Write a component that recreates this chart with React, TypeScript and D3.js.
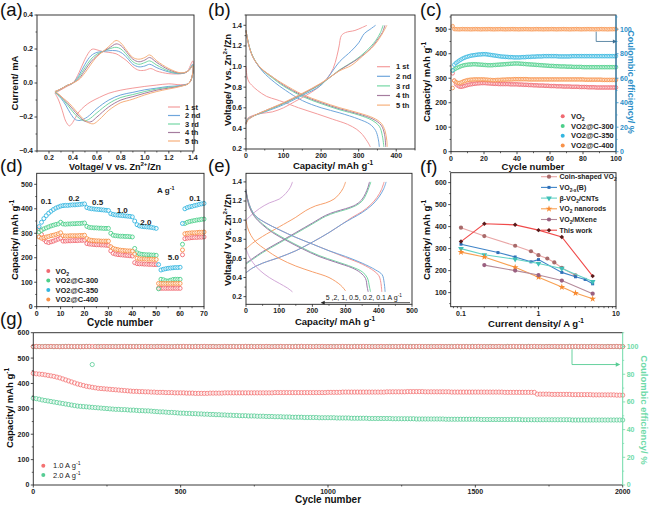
import React from "react";
import * as d3 from "d3";

const F = "'Liberation Sans', Arial, Helvetica, sans-serif";

// ---------------- (a) CV data: [V, I] closed loops ----------------
const cvLabels = ["1 st", "2 nd", "3 rd", "4 th", "5 th"];
const cv1 = [[0.25,-0.06],[0.3,-0.04],[0.35,-0.02],[0.4,0.0],[0.45,0.06],[0.5,0.14],[0.55,0.195],[0.57,0.2],[0.6,0.195],[0.65,0.185],[0.7,0.18],[0.76,0.172],[0.8,0.155],[0.85,0.13],[0.9,0.095],[0.95,0.075],[1.0,0.075],[1.05,0.085],[1.1,0.07],[1.2,0.055],[1.3,0.055],[1.35,0.065],[1.4,0.13],
  [1.4,0.066],[1.37,0.0],[1.3,-0.01],[1.2,-0.005],[1.1,-0.012],[1.0,-0.02],[0.9,-0.03],[0.8,-0.042],[0.7,-0.06],[0.62,-0.085],[0.55,-0.11],[0.5,-0.135],[0.45,-0.17],[0.42,-0.205],[0.39,-0.24],[0.37,-0.252],[0.34,-0.225],[0.31,-0.16],[0.28,-0.1],[0.25,-0.06]];
const cv2 = [[0.25,-0.055],[0.3,-0.035],[0.35,-0.015],[0.4,0.0],[0.45,0.045],[0.5,0.11],[0.55,0.16],[0.6,0.18],[0.65,0.185],[0.7,0.19],[0.76,0.19],[0.8,0.18],[0.85,0.15],[0.9,0.11],[0.95,0.095],[1.0,0.1],[1.04,0.11],[1.1,0.09],[1.2,0.065],[1.3,0.055],[1.36,0.07],[1.4,0.11],
  [1.4,0.055],[1.37,0.0],[1.3,-0.015],[1.2,-0.02],[1.1,-0.03],[1.0,-0.04],[0.9,-0.055],[0.8,-0.07],[0.7,-0.1],[0.6,-0.15],[0.52,-0.2],[0.46,-0.22],[0.42,-0.215],[0.38,-0.18],[0.34,-0.13],[0.3,-0.09],[0.25,-0.055]];
const cv3 = [[0.25,-0.055],[0.3,-0.035],[0.35,-0.015],[0.4,0.0],[0.45,0.035],[0.5,0.09],[0.55,0.14],[0.6,0.17],[0.65,0.185],[0.7,0.2],[0.76,0.21],[0.8,0.2],[0.85,0.165],[0.9,0.125],[0.95,0.11],[1.0,0.12],[1.04,0.13],[1.1,0.105],[1.2,0.07],[1.3,0.057],[1.36,0.07],[1.4,0.105],
  [1.4,0.058],[1.37,0.0],[1.3,-0.017],[1.2,-0.025],[1.1,-0.035],[1.0,-0.05],[0.9,-0.068],[0.8,-0.085],[0.7,-0.12],[0.6,-0.175],[0.53,-0.215],[0.49,-0.222],[0.44,-0.2],[0.4,-0.17],[0.35,-0.125],[0.3,-0.085],[0.25,-0.055]];
const cv4 = [[0.25,-0.05],[0.3,-0.035],[0.35,-0.015],[0.4,0.0],[0.45,0.025],[0.5,0.075],[0.55,0.125],[0.6,0.16],[0.65,0.185],[0.7,0.205],[0.76,0.23],[0.8,0.22],[0.85,0.18],[0.9,0.14],[0.95,0.125],[1.0,0.135],[1.04,0.15],[1.1,0.12],[1.2,0.078],[1.3,0.058],[1.36,0.07],[1.4,0.1],
  [1.4,0.06],[1.37,0.0],[1.3,-0.018],[1.2,-0.03],[1.1,-0.042],[1.0,-0.06],[0.9,-0.08],[0.8,-0.1],[0.7,-0.14],[0.6,-0.2],[0.55,-0.228],[0.5,-0.225],[0.45,-0.195],[0.4,-0.155],[0.35,-0.115],[0.3,-0.08],[0.25,-0.05]];
const cv5 = [[0.25,-0.05],[0.3,-0.035],[0.35,-0.015],[0.4,0.0],[0.45,0.02],[0.5,0.06],[0.55,0.11],[0.6,0.155],[0.65,0.185],[0.7,0.215],[0.76,0.25],[0.8,0.235],[0.85,0.19],[0.9,0.15],[0.95,0.14],[1.0,0.15],[1.04,0.165],[1.1,0.13],[1.2,0.085],[1.3,0.06],[1.36,0.07],[1.4,0.1],
  [1.4,0.06],[1.37,0.0],[1.3,-0.02],[1.2,-0.035],[1.1,-0.05],[1.0,-0.07],[0.9,-0.095],[0.85,-0.105],[0.8,-0.115],[0.7,-0.16],[0.62,-0.215],[0.57,-0.24],[0.52,-0.23],[0.47,-0.2],[0.42,-0.16],[0.37,-0.12],[0.32,-0.09],[0.28,-0.065],[0.25,-0.05]];

// ---------------- (b) GCD data: [capacity, V] ----------------
const gcdDis1 = [[0,1.0],[3,0.9],[8,0.85],[15,0.82],[30,0.77],[55,0.71],[80,0.68],[100,0.655],[140,0.6],[190,0.54],[230,0.49],[270,0.44],[295,0.39],[310,0.34],[320,0.29],[327,0.25],[331,0.22]];
const gcdCh1 = [[0,0.45],[5,0.5],[15,0.52],[40,0.545],[70,0.56],[100,0.6],[130,0.66],[160,0.72],[190,0.79],[215,0.88],[232,0.98],[242,1.1],[248,1.2],[254,1.3],[265,1.33],[290,1.35],[310,1.38],[322,1.4]];
const gcdDis2 = [[0,1.35],[5,1.25],[12,1.15],[25,1.05],[45,0.95],[75,0.85],[105,0.77],[150,0.67],[200,0.6],[250,0.55],[300,0.49],[330,0.44],[345,0.38],[352,0.3],[355,0.22]];
const gcdCh2 = [[0,0.45],[5,0.49],[20,0.52],[50,0.56],[100,0.63],[150,0.72],[200,0.82],[250,1.05],[280,1.15],[300,1.23],[315,1.32],[330,1.36],[345,1.4]];
const gcdDis3 = [[0,1.35],[7,1.22],[18,1.1],[40,0.98],[70,0.89],[100,0.81],[150,0.71],[200,0.64],[250,0.58],[300,0.53],[335,0.48],[355,0.42],[363,0.33],[367,0.22]];
const gcdCh3 = [[0,0.45],[5,0.485],[20,0.52],[50,0.565],[100,0.64],[150,0.73],[200,0.83],[250,0.97],[290,1.06],[320,1.15],[345,1.25],[358,1.33],[365,1.4]];
const gcdDis4 = [[0,1.35],[8,1.2],[20,1.08],[40,0.98],[70,0.9],[100,0.82],[150,0.72],[200,0.65],[250,0.59],[300,0.54],[338,0.49],[360,0.43],[369,0.34],[372,0.22]];
const gcdCh4 = [[0,0.44],[5,0.48],[20,0.52],[50,0.57],[100,0.645],[150,0.735],[200,0.835],[250,0.965],[300,1.08],[330,1.17],[352,1.27],[363,1.33],[370,1.4]];
const gcdDis5 = [[0,1.35],[8,1.2],[20,1.08],[40,0.985],[70,0.9],[100,0.83],[150,0.73],[200,0.66],[250,0.6],[300,0.55],[340,0.5],[360,0.45],[370,0.38],[375,0.28],[376,0.22]];
const gcdCh5 = [[0,0.44],[5,0.48],[20,0.52],[50,0.57],[100,0.65],[150,0.74],[200,0.84],[250,0.96],[280,1.01],[310,1.1],[340,1.2],[360,1.3],[375,1.4]];

// ---------------- (c) cycling at low rate ----------------
const seriesNames = ["VO_{2}", "VO2@C-300", "VO2@C-350", "VO2@C-400"];
const cVO2 = [320,290,276,270,266,265,266,268,270,272,274,275,276,277,278,279,279,280,280,280,280,279,279,278,278,277,277,277,276,276,276,276,276,276,276,275,275,275,275,275,274,274,274,273,273,273,272,272,272,271,271,271,270,270,270,270,269,269,269,268,268,268,268,267,267,267,267,266,266,266,266,266,265,265,265,265,265,264,264,264,264,264,263,263,263,263,263,262,262,262,262,262,262,262,262,262,262,262,262,262];
const cC300 = [332,336,340,343,346,349,351,353,354,355,356,356,357,357,357,356,356,355,355,354,354,353,353,353,353,354,354,355,355,356,356,357,357,358,358,359,359,360,360,360,360,359,359,358,358,357,357,356,356,355,355,354,354,353,353,352,352,351,351,350,350,350,349,349,349,348,348,348,348,347,347,347,347,346,346,346,346,346,346,345,345,345,345,345,345,345,345,345,345,345,345,345,345,345,345,345,345,345,345,345];
const cC350 = [332,355,362,367,372,376,380,383,386,388,390,392,393,394,395,396,397,397,398,398,398,397,396,395,394,393,392,391,390,389,388,388,387,387,386,386,386,385,385,385,385,385,386,386,386,387,387,387,388,388,388,389,389,389,389,390,390,390,390,390,390,390,390,390,389,389,389,389,389,389,389,389,390,390,390,390,390,390,390,390,390,390,390,390,390,390,390,390,390,390,390,390,390,390,390,390,390,390,390,390];
const cC400 = [260,290,284,281,280,282,285,288,290,292,293,294,294,295,295,295,295,295,295,295,294,294,293,293,292,292,292,293,293,293,294,294,294,295,295,295,295,296,296,296,296,296,296,296,296,296,295,295,295,295,295,295,295,295,295,295,295,295,295,295,295,295,295,295,295,295,295,295,295,295,295,295,295,295,295,295,295,295,295,295,294,294,294,294,294,294,294,294,294,294,294,293,293,293,293,293,293,293,293,293];
const ceC = [102.5,100.1,100,100,99.9,100,100.1,100,100,100,100,99.9,100,100,100.1,100,100,99.9,100,100,100,100,100.1,100,100,99.9,100,100,100,100.1,100,100,99.9,100,100,100,100.1,100,100,100,99.9,100,100,100,100.1,100,100,100,99.9,100,100,100.1,100,100,100,99.9,100,100,100,100,100.1,100,100,99.9,100,100,100,100.1,100,100,100,99.9,100,100,100,100.1,100,100,99.9,100,100,100,100.1,100,100,100,99.9,100,100,100,100.1,100,100,100,99.9,100,100,100,100.1,100];

// ---------------- (d) rate performance ----------------
const dVO2 = [318,295,275,265,262,265,268,272,276,280,268,268,269,269,270,270,270,271,271,272,258,256,255,254,253,253,252,252,251,250,228,218,215,213,212,211,210,209,208,207,180,176,175,175,174,174,173,173,172,172,76,75,75,75,75,75,75,75,75,75,212,278,280,281,282,283,283,284,284,285];
const dC300 = [305,312,318,322,326,330,333,336,338,345,338,337,338,338,339,339,340,340,341,342,328,324,323,322,322,321,321,320,320,320,300,292,290,289,288,288,287,287,286,285,238,220,216,214,213,212,212,211,211,210,73,112,110,106,105,108,111,112,112,112,255,340,345,348,350,352,354,355,357,358];
const dC350 = [327,345,360,372,382,390,397,403,407,411,413,414,414,415,416,416,417,418,419,420,405,402,400,399,398,397,396,395,394,393,380,377,375,374,373,372,371,370,369,367,350,335,330,328,327,326,325,324,322,320,172,150,153,155,157,158,159,160,160,161,340,400,405,408,410,413,415,418,420,422];
const dC400 = [285,280,282,285,287,290,292,295,298,302,290,289,289,290,290,290,290,291,291,292,278,273,271,270,269,269,268,268,268,268,245,238,235,233,231,230,229,228,228,227,215,198,196,195,195,194,194,194,193,193,95,95,95,95,95,95,95,95,95,95,232,298,300,301,302,302,303,304,304,305];
const rateLabels = ["0.1", "0.2", "0.5", "1.0", "2.0", "5.0", "0.1", "A g^{-1}"];
const rateLabelCycle = [4, 15.6, 25.5, 35.8, 45.7, 57.2, 66.2, 54];
const rateLabelCap = [433, 443, 427, 395, 347, 204, 443, 476];

// ---------------- (e) GCD at different rates ----------------
const eCh01 = [[0,0.45],[20,0.5],[50,0.55],[100,0.61],[150,0.68],[200,0.77],[250,0.87],[290,0.96],[320,1.03],[350,1.09],[375,1.16],[395,1.24],[408,1.32],[416,1.4]];
const eDis01 = [[0,1.32],[5,1.22],[15,1.12],[30,1.04],[60,0.97],[100,0.9],[150,0.82],[200,0.75],[250,0.68],[300,0.61],[350,0.54],[385,0.47],[400,0.42],[406,0.35],[409,0.25]];
const eCh02 = [[0,0.45],[20,0.5],[50,0.55],[100,0.61],[150,0.68],[200,0.77],[250,0.87],[290,0.96],[320,1.02],[350,1.08],[380,1.16],[400,1.24],[415,1.33],[422,1.4]];
const eDis02 = [[0,1.32],[5,1.22],[15,1.12],[30,1.04],[60,0.97],[100,0.9],[150,0.82],[200,0.75],[250,0.68],[300,0.62],[350,0.55],[390,0.48],[410,0.43],[416,0.35],[419,0.25]];
const eCh05 = [[0,0.54],[50,0.66],[100,0.76],[150,0.86],[200,0.96],[240,1.04],[270,1.08],[300,1.11],[330,1.15],[350,1.2],[362,1.27],[370,1.34],[376,1.4]];
const eDis05 = [[0,1.3],[10,1.15],[25,1.05],[50,0.96],[80,0.88],[120,0.8],[170,0.71],[220,0.63],[270,0.57],[320,0.51],[350,0.46],[365,0.4],[372,0.3],[375,0.25]];
const eCh1 = [[0,0.55],[50,0.67],[100,0.77],[150,0.87],[200,0.97],[240,1.05],[270,1.09],[300,1.12],[330,1.16],[348,1.21],[360,1.28],[367,1.34],[372,1.4]];
const eDis1 = [[0,1.3],[10,1.14],[25,1.04],[50,0.95],[80,0.87],[120,0.79],[170,0.7],[220,0.62],[270,0.56],[320,0.5],[345,0.45],[360,0.39],[365,0.3],[368,0.25]];
const eCh2 = [[0,0.7],[20,0.76],[50,0.83],[100,0.93],[150,1.03],[180,1.1],[210,1.15],[240,1.18],[265,1.22],[280,1.27],[292,1.33],[300,1.4]];
const eDis2 = [[0,1.0],[5,0.92],[15,0.84],[30,0.77],[60,0.69],[100,0.6],[150,0.52],[200,0.46],[250,0.4],[285,0.32],[300,0.26]];
const eCh5 = [[0,1.0],[15,1.05],[40,1.12],[70,1.18],[100,1.22],[120,1.28],[133,1.34],[140,1.4]];
const eDis5 = [[0,0.7],[8,0.63],[20,0.56],[40,0.48],[70,0.4],[100,0.34],[125,0.29],[140,0.25]];
const eAnnotation = "5 ,2, 1, 0.5, 0.2, 0.1 A g^{-1}";

// ---------------- (f) comparison ----------------
const fNames = ["Coin-shaped VO_{2}", "VO_{2-x}(B)", "\u03B2-VO_{2}/CNTs", "VO_{2} nanorods", "VO_{2}/MXene", "This work"];
const fCoinX = [0.1,0.2,0.5,0.8,1,1.3,1.6,2,3];
const fCoinY = [395,357,313,288,270,255,237,213,178];
const fBX = [0.1,0.3,0.5,0.8,1,2,3,4,5];
const fBY = [320,282,262,240,250,192,172,160,140];
const fCntX = [0.1,0.2,0.5,1,2,5];
const fCntY = [300,272,252,232,210,150];
const fRodX = [0.1,0.2,0.5,1,2,3,5];
const fRodY = [284,262,215,170,125,98,72];
const fMxX = [0.2,0.5,1,2,5];
const fMxY = [225,200,180,155,95];
const fWorkX = [0.1,0.2,0.5,1,2,5];
const fWorkY = [332,413,408,384,353,175];

// ---------------- (g) long cycling (every 10 cycles) ----------------
const gNames = ["1.0 A g^{-1}", "2.0 A g^{-1}"];
const g1 = [440,438,437,436,434,432,430,428,425,422,418,414,410,406,402,398,395,392,389,387,
385,383,381,380,379,378,377,376,375,374,373,372,371,370,369,369,368,368,367,367,
366,366,365,365,365,364,364,364,363,363,363,363,362,362,362,361,361,361,361,361,
362,362,362,362,362,363,363,363,363,363,363,363,363,363,363,363,363,363,363,363,
363,363,364,364,364,364,364,364,364,364,364,364,364,364,364,364,364,364,364,364,
365,365,365,365,365,366,366,366,366,366,366,366,366,366,366,366,366,366,366,366,
367,367,367,367,367,367,367,368,368,368,368,368,368,367,367,367,367,367,367,367,
367,367,366,366,366,366,366,366,366,366,366,366,366,366,366,366,366,366,366,366,
365,365,365,365,365,365,365,365,365,365,365,358,358,358,358,358,357,357,357,357,
357,357,357,356,356,356,356,356,356,356,355,355,355,355,355,355,355,355,354,354,354];
const g2 = [342,340,338,335,333,331,329,327,325,323,321,319,317,315,313,311,310,309,308,307,
306,305,304,303,302,301,300,299,298,298,297,297,296,295,295,294,293,293,292,292,
291,290,289,288,288,287,286,286,285,284,283,283,282,282,281,281,280,280,279,279,
278,278,277,277,276,276,275,275,274,274,273,273,273,272,272,272,271,271,271,270,
270,270,269,269,269,268,268,268,267,267,267,267,266,266,266,266,266,265,265,265,
265,265,265,264,264,264,264,264,263,263,263,263,263,263,262,262,262,262,262,262,
262,262,261,261,261,261,261,261,261,261,260,260,260,260,260,260,260,260,260,260,
259,259,259,259,259,259,259,259,259,259,259,259,258,258,258,258,258,258,258,258,
258,258,258,258,258,258,257,257,257,257,257,257,257,257,257,257,257,257,257,257,
257,257,257,256,256,256,256,256,256,256,256,256,256,256,256,256,256,256,256,256,256];
const ceG1 = [100,100.1,100,99.9,100,100,100.1,100,100,99.9,100,100,100.1,100,100,100,99.9,100,100,100.1,
100,100,99.9,100,100.1,100,100,100,99.9,100,100,100.1,100,100,100,99.9,100,100,100.1,100,
100,99.9,100,100,100.1,100,100,99.9,100,100,100,100.1,100,100,99.9,100,100,100,100.1,100,
100,100,99.9,100,100,100.1,100,100,100,99.9,100,100,100.1,100,100,99.9,100,100,100,100.1,
100,99.9,100,100,100.1,100,100,100,99.9,100,100,100.1,100,100,100,99.9,100,100,100.1,100,
100,100,99.9,100,100,100.1,100,100,99.9,100,100,100,100.1,100,100,99.9,100,100,100.1,100,
100,99.9,100,100,100,100.1,100,100,99.9,100,100,100.1,100,100,100,99.9,100,100,100.1,100,
100,100,99.9,100,100.1,100,100,100,99.9,100,100,100.1,100,100,99.9,100,100,100,100.1,100,
99.9,100,100,100.1,100,100,100,99.9,100,100,100.1,100,100,99.9,100,100,100,100.1,100,100,
100,99.9,100,100,100.1,100,100,100,99.9,100,100,100.1,100,100,99.9,100,100,100,100.1,100,100];
const ceG2 = [100,99.9,100,100,100.1,100,100,99.9,100,100,100,100.1,100,100,99.9,100,100,100,100.1,100,
87,100,100.1,100,99.9,100,100,100,100.1,100,100,99.9,100,100,100,100.1,100,100,99.9,100,
100,100,100.1,100,100,99.9,100,100,100,100.1,100,100,99.9,100,100,100.1,100,100,100,99.9,
100,100.1,100,100,99.9,100,100,100,100.1,100,100,99.9,100,100,100.1,100,100,100,99.9,100,
100,100,100.1,100,100,99.9,100,100,100,100.1,100,100,99.9,100,100,100,100.1,100,100,99.9,
100,100,100.1,100,100,99.9,100,100,100,100.1,100,100,99.9,100,100,100.1,100,100,100,99.9,
100,100.1,100,100,99.9,100,100,100,100.1,100,100,99.9,100,100,100,100.1,100,100,99.9,100,
100,100,100.1,100,100,99.9,100,100,100,100.1,100,100,99.9,100,100,100.1,100,100,100,99.9,
100,100.1,100,100,99.9,100,100,100,100.1,100,100,99.9,100,100,100,100.1,100,100,99.9,100,
100,100,100.1,100,100,99.9,100,100,100,100.1,100,100,99.9,100,100,100.1,100,100,100,99.9,100];

// ---------------- colours ----------------
const cycColors = ["#f49c9c", "#6fa6dc", "#74d7a4", "#a57c9e", "#f7b07c"];
const serColors = ["#f06a72", "#4ccf8a", "#34b6e0", "#f8924a"];
const rateColors = ["#f49494", "#6fa6dc", "#74d7a4", "#9a79a8", "#f7a06c", "#d2a8d8"];
const fLine = ["#e9a6a6", "#3f84c8", "#62d2c4", "#f8a052", "#b48a9a", "#f04a4a"];
const fMark = ["#a86a6a", "#2f6fb8", "#3fc0b8", "#f88a30", "#9a6080", "#5a1a1a"];
const gColors = ["#f47272", "#57cc94"];
const gAxis = "#6edaa8";
const cAxis = "#2e8fc8";

// ---------------- helpers ----------------
function rich(s: string, fs: number) {
  const out: any[] = [];
  const re = /([_^])\{([^}]*)\}/g;
  let last = 0;
  let m: RegExpExecArray | null;
  let k = 0;
  let pend = 0;
  while ((m = re.exec(s))) {
    if (m.index > last) {
      out.push(<tspan key={k++} dy={pend || undefined}>{s.slice(last, m.index)}</tspan>);
      pend = 0;
    }
    const sh = m[1] === "_" ? fs * 0.28 : -fs * 0.4;
    out.push(<tspan key={k++} dy={sh + pend} fontSize={fs * 0.68}>{m[2]}</tspan>);
    pend = -sh;
    last = re.lastIndex;
  }
  if (last < s.length) out.push(<tspan key={k++} dy={pend || undefined}>{s.slice(last)}</tspan>);
  return out;
}

function Ticks({ orient, scale, pos, ticks, fmt, minor = [], color = "#222", len = 2.5, fs = 7 }: any) {
  const els: any[] = [];
  ticks.forEach((t: number, i: number) => {
    const p = scale(t);
    if (orient === "bottom") {
      els.push(<line key={"t" + i} x1={p} x2={p} y1={pos} y2={pos + len} stroke={color} strokeWidth={0.8} />);
      els.push(<text key={"l" + i} x={p} y={pos + len + fs - 0.6} textAnchor="middle" fontSize={fs} fontWeight="bold" fill={color}>{fmt(t)}</text>);
    } else if (orient === "left") {
      els.push(<line key={"t" + i} x1={pos} x2={pos - len} y1={p} y2={p} stroke={color} strokeWidth={0.8} />);
      els.push(<text key={"l" + i} x={pos - len - 1.5} y={p + fs * 0.35} textAnchor="end" fontSize={fs} fontWeight="bold" fill={color}>{fmt(t)}</text>);
    } else {
      els.push(<line key={"t" + i} x1={pos} x2={pos + len} y1={p} y2={p} stroke={color} strokeWidth={0.8} />);
      els.push(<text key={"l" + i} x={pos + len + 1.5} y={p + fs * 0.35} textAnchor="start" fontSize={fs} fontWeight="bold" fill={color}>{fmt(t)}</text>);
    }
  });
  minor.forEach((t: number, i: number) => {
    const p = scale(t);
    const l = len * 0.6;
    if (orient === "bottom") els.push(<line key={"m" + i} x1={p} x2={p} y1={pos} y2={pos + l} stroke={color} strokeWidth={0.7} />);
    else if (orient === "left") els.push(<line key={"m" + i} x1={pos} x2={pos - l} y1={p} y2={p} stroke={color} strokeWidth={0.7} />);
    else els.push(<line key={"m" + i} x1={pos} x2={pos + l} y1={p} y2={p} stroke={color} strokeWidth={0.7} />);
  });
  return <g>{els}</g>;
}

function Frame({ x0, x1, y0, y1 }: any) {
  return <rect x={x0} y={y0} width={x1 - x0} height={y1 - y0} fill="none" stroke="#222" strokeWidth={0.9} />;
}

function Title({ x, y, text, rot = 0, fs = 9.5, color = "#111", anchor = "middle" }: any) {
  return (
    <text transform={`translate(${x},${y}) rotate(${rot})`} textAnchor={anchor} fontSize={fs} fontWeight="bold" fill={color}>
      {rich(text, fs)}
    </text>
  );
}

function PanelLabel({ x, y, t }: any) {
  return <text x={x} y={y} fontSize={18.5} fill="#111">{t}</text>;
}

const range = (a: number, b: number, s: number) => d3.range(a, b + s / 2, s);
const f1 = d3.format(".1f");
const f0 = d3.format("d");

// ---------------- panel A ----------------
function PanelA() {
  const x = d3.scaleLinear().domain([0.1, 1.41]).range([37, 194]);
  const y = d3.scaleLinear().domain([-0.4, 0.4]).range([151, 15]);
  const line = d3.line<number[]>().x(d => x(d[0])).y(d => y(d[1])).curve(d3.curveCatmullRom.alpha(0.5));
  const loops = [cv1, cv2, cv3, cv4, cv5];
  return (
    <g>
      {loops.map((l, i) => <path key={i} d={line(l) || ""} fill="none" stroke={cycColors[i]} strokeWidth={1} />)}
      <Frame x0={37} x1={194} y0={15} y1={151} />
      <Ticks orient="bottom" scale={x} pos={151} ticks={range(0.2, 1.4, 0.2)} fmt={f1} minor={range(0.1, 1.3, 0.2)} />
      <Ticks orient="left" scale={y} pos={37} ticks={range(-0.4, 0.4, 0.2)} fmt={f1} minor={range(-0.3, 0.3, 0.2)} />
      <Title x={18} y={83} rot={-90} text="Current/ mA" />
      <Title x={115} y={170} text="Voltage/ V vs. Zn^{2+}/Zn" fs={9} />
      {cvLabels.map((t, i) => (
        <g key={i}>
          <line x1={168} x2={180} y1={107 + i * 8.5} y2={107 + i * 8.5} stroke={cycColors[i]} strokeWidth={1.2} />
          <text x={185} y={109.7 + i * 8.5} fontSize={7.5} fontWeight="bold" fill="#222">{t}</text>
        </g>
      ))}
      <PanelLabel x={0} y={15.5} t="(a)" />
    </g>
  );
}

// ---------------- panel B ----------------
function PanelB() {
  const x = d3.scaleLinear().domain([0, 450]).range([246, 415]);
  const y = d3.scaleLinear().domain([0.2, 1.5]).range([149, 15]);
  const line = d3.line<number[]>().x(d => x(d[0])).y(d => y(d[1])).curve(d3.curveCatmullRom.alpha(0.5));
  const dis = [gcdDis1, gcdDis2, gcdDis3, gcdDis4, gcdDis5];
  const ch = [gcdCh1, gcdCh2, gcdCh3, gcdCh4, gcdCh5];
  return (
    <g>
      {dis.map((l, i) => <path key={"d" + i} d={line(l) || ""} fill="none" stroke={cycColors[i]} strokeWidth={1} />)}
      {ch.map((l, i) => <path key={"c" + i} d={line(l) || ""} fill="none" stroke={cycColors[i]} strokeWidth={1} />)}
      <Frame x0={246} x1={415} y0={15} y1={149} />
      <Ticks orient="bottom" scale={x} pos={149} ticks={range(0, 400, 100)} fmt={f0} minor={range(50, 450, 100)} />
      <Ticks orient="left" scale={y} pos={246} ticks={range(0.2, 1.4, 0.2)} fmt={f1} minor={range(0.3, 1.5, 0.2)} />
      <Title x={231} y={80} rot={-90} text="Voltage/ V vs. Zn^{2+}/Zn" fs={9} />
      <Title x={333} y={169} text="Capacity/ mAh g^{-1}" />
      {cvLabels.map((t, i) => (
        <g key={i}>
          <line x1={377} x2={390} y1={66.7 + i * 9.6} y2={66.7 + i * 9.6} stroke={cycColors[i]} strokeWidth={1.2} />
          <text x={396} y={69.4 + i * 9.6} fontSize={7.5} fontWeight="bold" fill="#222">{t}</text>
        </g>
      ))}
      <PanelLabel x={208} y={15.5} t="(b)" />
    </g>
  );
}

// ---------------- panel C ----------------
function PanelC() {
  const x = d3.scaleLinear().domain([0, 100]).range([451, 616]);
  const yL = d3.scaleLinear().domain([0, 558]).range([151.7, 15]);
  const yR = d3.scaleLinear().domain([0, 111.6]).range([151.7, 15]);
  const series = [cVO2, cC300, cC350, cC400];
  const ax = 88, ayTop = 98, ayBot = 90, axEnd = 99.3;
  return (
    <g>
      {ceC.map((v, i) => <circle key={"ce" + i} cx={x(i + 1)} cy={yR(v)} r={1.8} fill="#fde1cc" stroke={serColors[3]} strokeWidth={0.7} />)}
      {series.map((s, si) => s.map((v, i) => (
        <circle key={si + "-" + i} cx={x(i + 1)} cy={yL(v)} r={1.8} fill="#ffffff" fillOpacity={0.5} stroke={serColors[si]} strokeWidth={0.8} />
      )))}
      <path d={`M${x(ax)},${yR(ayTop)}V${yR(ayBot)}H${x(axEnd)}`} fill="none" stroke="#3b6e93" strokeWidth={0.8} />
      <path d={`M${x(axEnd) + 2},${yR(ayBot)}l-4,-2v4z`} fill="#3b6e93" />
      <Frame x0={451} x1={616} y0={15} y1={151.7} />
      <line x1={616} x2={616} y1={15} y2={151.7} stroke={cAxis} strokeWidth={1} />
      <Ticks orient="bottom" scale={x} pos={151.7} ticks={range(0, 100, 20)} fmt={f0} minor={range(10, 90, 20)} />
      <Ticks orient="left" scale={yL} pos={451} ticks={range(0, 500, 100)} fmt={f0} minor={range(50, 550, 100)} />
      <Ticks orient="right" scale={yR} pos={616} ticks={range(0, 100, 20)} fmt={f0} minor={range(10, 110, 20)} color={cAxis} />
      <Title x={430} y={82} rot={-90} text="Capacity/ mAh g^{-1}" />
      <Title x={628} y={82} rot={90} text="Coulombic efficiency/ %" color={cAxis} fs={9} />
      <Title x={533} y={170} text="Cycle number" />
      {seriesNames.map((t, i) => (
        <g key={i}>
          <circle cx={562.7} cy={116.3 + i * 9.7} r={2} fill={serColors[i]} />
          <text x={571} y={119 + i * 9.7} fontSize={7.5} fontWeight="bold" fill="#222">{rich(t, 7.5)}</text>
        </g>
      ))}
      <PanelLabel x={420} y={15.5} t="(c)" />
    </g>
  );
}

// ---------------- panel D ----------------
function PanelD() {
  const x = d3.scaleLinear().domain([0, 70]).range([36.7, 204]);
  const y = d3.scaleLinear().domain([0, 545]).range([306.7, 173.3]);
  const series = [dVO2, dC300, dC350, dC400];
  return (
    <g>
      {series.map((s, si) => s.map((v, i) => (
        <circle key={si + "-" + i} cx={x(i + 1)} cy={y(v)} r={2} fill="#ffffff" fillOpacity={0.5} stroke={serColors[si]} strokeWidth={0.9} />
      )))}
      {rateLabels.map((t, i) => (
        <text key={i} x={x(rateLabelCycle[i])} y={y(rateLabelCap[i]) + 3} textAnchor="middle" fontSize={8} fontWeight="bold" fill="#222">{rich(t, 8)}</text>
      ))}
      <Frame x0={36.7} x1={204} y0={173.3} y1={306.7} />
      <Ticks orient="bottom" scale={x} pos={306.7} ticks={range(0, 70, 10)} fmt={f0} minor={range(5, 65, 10)} />
      <Ticks orient="left" scale={y} pos={36.7} ticks={range(0, 500, 100)} fmt={f0} minor={range(50, 450, 100)} />
      <Title x={18} y={240} rot={-90} text="Capacity/ mAh g^{-1}" />
      <Title x={120} y={326} text="Cycle number" fs={10} />
      {seriesNames.map((t, i) => (
        <g key={i}>
          <circle cx={48.3} cy={271 + i * 9.5} r={2} fill={serColors[i]} />
          <text x={55.5} y={273.7 + i * 9.5} fontSize={7.5} fontWeight="bold" fill="#222">{rich(t, 7.5)}</text>
        </g>
      ))}
      <PanelLabel x={0} y={172} t="(d)" />
    </g>
  );
}

// ---------------- panel E ----------------
function PanelE() {
  const x = d3.scaleLinear().domain([0, 500]).range([246, 412]);
  const y = d3.scaleLinear().domain([0.12, 1.49]).range([304.3, 173.3]);
  const line = d3.line<number[]>().x(d => x(d[0])).y(d => y(d[1])).curve(d3.curveCatmullRom.alpha(0.5));
  const ch = [eCh01, eCh02, eCh05, eCh1, eCh2, eCh5];
  const dis = [eDis01, eDis02, eDis05, eDis1, eDis2, eDis5];
  const annX0 = 494, annX1 = 228, annV = 0.137;
  return (
    <g>
      {ch.map((l, i) => <path key={"c" + i} d={line(l) || ""} fill="none" stroke={rateColors[i]} strokeWidth={1} />)}
      {dis.map((l, i) => <path key={"d" + i} d={line(l) || ""} fill="none" stroke={rateColors[i]} strokeWidth={1} />)}
      <line x1={x(annX0)} x2={x(annX1)} y1={y(annV)} y2={y(annV)} stroke="#222" strokeWidth={0.8} />
      <path d={`M${x(annX1) - 1},${y(annV)}l4,-1.8v3.6z`} fill="#222" />
      <text x={x(240)} y={y(annV) - 3} fontSize={7} fill="#222">{rich(eAnnotation, 7)}</text>
      <Frame x0={246} x1={412} y0={173.3} y1={304.3} />
      <Ticks orient="bottom" scale={x} pos={304.3} ticks={range(0, 500, 100)} fmt={f0} minor={range(50, 450, 100)} />
      <Ticks orient="left" scale={y} pos={246} ticks={range(0.2, 1.4, 0.2)} fmt={f1} minor={range(0.3, 1.3, 0.2)} />
      <Title x={231} y={240} rot={-90} text="Voltage/ V vs. Zn^{2+}/Zn" fs={9} />
      <Title x={335} y={325} text="Capacity/ mAh g^{-1}" />
      <PanelLabel x={208} y={172} t="(e)" />
    </g>
  );
}

// ---------------- panel F ----------------
function PanelF() {
  const x = d3.scaleLog().domain([0.0737, 10]).range([450.7, 616]);
  const y = d3.scaleLinear().domain([36, 645]).range([306.7, 172.7]);
  const xs = [fCoinX, fBX, fCntX, fRodX, fMxX, fWorkX];
  const ys = [fCoinY, fBY, fCntY, fRodY, fMxY, fWorkY];
  const syms = [d3.symbolCircle, d3.symbolSquare, d3.symbolTriangle, d3.symbolStar, d3.symbolCircle, d3.symbolSquare];
  const rots = [0, 0, 180, 0, 0, 45];
  const sizes = [14, 9, 14, 14, 14, 10];
  const minorX = [0.08, 0.09, ...d3.range(2, 10).map(v => v / 10), ...d3.range(2, 10)];
  return (
    <g>
      {xs.map((xa, si) => {
        const pts = xa.map((v, i) => [x(v), y(ys[si][i])] as [number, number]);
        return (
          <g key={si}>
            <path d={d3.line()(pts) || ""} fill="none" stroke={fLine[si]} strokeWidth={1.1} />
            {pts.map((p, i) => (
              <path key={i} transform={`translate(${p[0]},${p[1]}) rotate(${rots[si]})`} d={d3.symbol(syms[si], sizes[si])() || ""} fill={fMark[si]} />
            ))}
          </g>
        );
      })}
      <Frame x0={450.7} x1={616} y0={172.7} y1={306.7} />
      <Ticks orient="bottom" scale={x} pos={306.7} ticks={[0.1, 1, 10]} fmt={(v: number) => String(v)} minor={minorX} />
      <Ticks orient="left" scale={y} pos={450.7} ticks={range(100, 600, 100)} fmt={f0} minor={range(50, 650, 100)} />
      <Title x={430} y={240} rot={-90} text="Capacity/ mAh g^{-1}" />
      <Title x={536} y={327} text="Current density/ A g^{-1}" />
      {fNames.map((t, i) => {
        const yy = 176.7 + i * 10.7;
        return (
          <g key={i}>
            <line x1={541} x2={557} y1={yy} y2={yy} stroke={fLine[i]} strokeWidth={1.1} />
            <path transform={`translate(549,${yy}) rotate(${rots[i]})`} d={d3.symbol(syms[i], sizes[i])() || ""} fill={fMark[i]} />
            <text x={559.5} y={yy + 2.5} fontSize={7} fontWeight="bold" fill="#222">{rich(t, 7)}</text>
          </g>
        );
      })}
      <PanelLabel x={420} y={172.5} t="(f)" />
    </g>
  );
}

// ---------------- panel G ----------------
function PanelG() {
  const x = d3.scaleLinear().domain([0, 2000]).range([33.3, 622.7]);
  const yL = d3.scaleLinear().domain([0, 600]).range([485, 332.7]);
  const yR = d3.scaleLinear().domain([0, 110]).range([485, 332.7]);
  const ax = 1828, ayTop = 98, ayBot = 87, axEnd = 1985;
  return (
    <g>
      {ceG2.map((v, i) => <circle key={"c2" + i} cx={x(i * 10)} cy={yR(v)} r={2.1} fill="#ffffff" fillOpacity={0.5} stroke={gColors[1]} strokeWidth={0.8} />)}
      {ceG1.map((v, i) => <circle key={"c1" + i} cx={x(i * 10)} cy={yR(v)} r={2.1} fill="#ffffff" fillOpacity={0.5} stroke={gColors[0]} strokeWidth={0.8} />)}
      {g2.map((v, i) => <circle key={"g2" + i} cx={x(i * 10)} cy={yL(v)} r={2.1} fill="#ffffff" fillOpacity={0.5} stroke={gColors[1]} strokeWidth={0.8} />)}
      {g1.map((v, i) => <circle key={"g1" + i} cx={x(i * 10)} cy={yL(v)} r={2.1} fill="#ffffff" fillOpacity={0.5} stroke={gColors[0]} strokeWidth={0.8} />)}
      <path d={`M${x(ax)},${yR(ayTop)}V${yR(ayBot)}H${x(axEnd)}`} fill="none" stroke={gColors[1]} strokeWidth={0.9} />
      <path d={`M${x(axEnd) + 2},${yR(ayBot)}l-4.5,-2.2v4.4z`} fill={gColors[1]} />
      <line x1={33.3} x2={622.7} y1={332.7} y2={332.7} stroke="#222" strokeWidth={0.9} />
      <line x1={33.3} x2={33.3} y1={332.7} y2={485} stroke="#222" strokeWidth={0.9} />
      <line x1={33.3} x2={622.7} y1={485} y2={485} stroke="#222" strokeWidth={0.9} />
      <line x1={622.7} x2={622.7} y1={332.7} y2={485} stroke={gAxis} strokeWidth={1} />
      <Ticks orient="bottom" scale={x} pos={485} ticks={range(0, 2000, 500)} fmt={f0} minor={range(250, 1750, 500)} />
      <Ticks orient="left" scale={yL} pos={33.3} ticks={range(0, 600, 100)} fmt={f0} minor={range(50, 550, 100)} />
      <Ticks orient="right" scale={yR} pos={622.7} ticks={range(0, 100, 20)} fmt={f0} minor={range(10, 110, 20)} color={gAxis} />
      <Title x={13} y={408} rot={-90} text="Capacity/ mAh g^{-1}" />
      <Title x={641} y={410} rot={90} text="Coulombic efficiency/ %" color={gAxis} fs={9.5} />
      <Title x={328} y={503} text="Cycle number" fs={10} />
      {gNames.map((t, i) => (
        <g key={i}>
          <circle cx={43.3} cy={465.7 + i * 9.3} r={2} fill={gColors[i]} />
          <text x={53} y={468.4 + i * 9.3} fontSize={7.5} fill="#222">{rich(t, 7.5)}</text>
        </g>
      ))}
      <PanelLabel x={0} y={325} t="(g)" />
    </g>
  );
}

export default function App() {
  return (
    <svg width={651} height={508} viewBox="0 0 651 508" style={{ position: "absolute", left: 0, top: 0, background: "#fff" }} fontFamily={F}>
      <rect width={651} height={508} fill="#fff" />
      <PanelA />
      <PanelB />
      <PanelC />
      <PanelD />
      <PanelE />
      <PanelF />
      <PanelG />
    </svg>
  );
}
